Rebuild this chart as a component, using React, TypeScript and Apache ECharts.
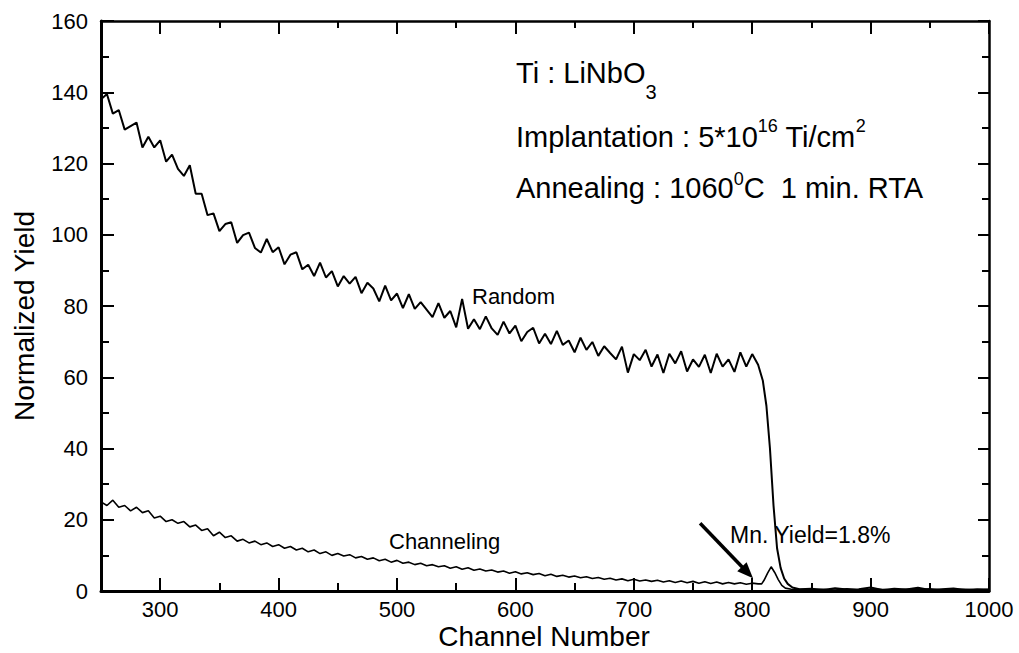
import React, { useEffect, useRef } from "react";
import * as echarts from "echarts";

// ---- data ----
const CHANNEL_START = 250;
const CHANNEL_STEP = 5;

// Random spectrum, channels 250..805 every 5 channels
const randomYield = [
  138, 139.5, 134, 135, 129.5, 130.5, 131.5, 124.5, 127.5, 124.5,
  126.5, 120.5, 122.5, 118.5, 116.5, 119.5, 111.5, 111.5, 105.5, 106,
  101, 103, 103.5, 97.7, 99.9, 100.6, 96.3, 95, 98.8, 95.1,
  96.5, 91.7, 94.4, 95.1, 90.3, 91.6, 88.4, 92.2, 88, 89.8,
  85.5, 88.4, 86.3, 88.2, 83.6, 86.5, 84.9, 81.3, 85.7, 81.6,
  83.5, 79.4, 83.3, 79.2, 81.1, 79, 76.9, 80.8, 76.7, 78.6,
  74, 82, 73.6, 76.3, 73.5, 77.1, 73.7, 71.9, 75.6, 72.3,
  74.5, 70.1, 72.7, 73.9, 69.5, 72.2, 69.3, 73, 69.1, 70.3,
  67, 71.1, 67.7, 69.9, 66, 68.7, 66.8, 65, 68.6, 61.3,
  66.5, 64.8, 67.7, 63, 66.4, 61.2, 66.6, 63.9, 67.3, 61.6,
  65, 62.9, 66.3, 61.2, 66.6, 63, 65, 61.5, 67, 63,
  66.5, 63.5,
];
const randomEdgeChannels = [809, 812, 815, 818, 821, 824, 827, 830, 834, 840];
const randomEdgeYield = [59, 52, 40, 24, 12, 6.5, 3.5, 2, 1, 0.5];

// Channeling spectrum, channels 250..805 every 5 channels
const channelingYield = [
  25, 24, 25.5, 23.5, 24, 22.5, 23.5, 22, 22.5, 20.5,
  21, 19.5, 20, 19, 19.5, 18, 18.5, 17, 17.5, 15.5,
  16.5, 15, 15.5, 14, 14.5, 13.5, 14, 13, 13.5, 12.5,
  13, 12, 12.5, 11.5, 12, 11, 11.5, 10.5, 11, 10,
  10.5, 9.8, 10.2, 9.3, 9.7, 8.9, 9.3, 8.5, 8.9, 8.1,
  8.6, 7.8, 8.1, 7.4, 7.8, 7.1, 7.4, 6.8, 7.1, 6.4,
  6.8, 6.1, 6.5, 5.8, 6.2, 5.6, 5.9, 5.3, 5.6, 5.0,
  5.4, 4.8, 5.1, 4.6, 4.9, 4.3, 4.7, 4.1, 4.4, 3.9,
  4.2, 3.7, 4.0, 3.5, 3.8, 3.3, 3.6, 3.1, 3.4, 2.9,
  3.3, 2.8, 3.1, 2.7, 3.0, 2.5, 2.9, 2.4, 2.8, 2.3,
  2.7, 2.2, 2.6, 2.1, 2.5, 2.0, 2.4, 2.0, 2.3, 1.9,
  2.2, 2.0,
];
const channelingEdgeChannels = [808, 810, 813, 816, 819, 822, 825, 828, 833, 840];
const channelingEdgeYield = [2.0, 3.0, 5.0, 6.8, 5.2, 3.2, 1.6, 0.8, 0.5, 0.4];

// Background after the surface edge
const tailChannels = [850, 860, 870, 880, 890, 900, 910, 920, 930, 940, 950, 960, 970, 980, 990, 1000];
const randomTailYield = [0.6, 0.3, 0.8, 0.4, 0.5, 1.0, 0.3, 0.6, 0.4, 0.9, 0.3, 0.5, 0.7, 0.3, 0.5, 0.4];
const channelingTailYield = [0.4, 0.5, 0.3, 0.6, 0.3, 0.5, 0.4, 0.3, 0.5, 0.4, 0.6, 0.3, 0.4, 0.5, 0.3, 0.4];

// Axis ticks
const xMajorTicks = [300, 400, 500, 600, 700, 800, 900, 1000];
const xMinorTicks = [350, 450, 550, 650, 750, 850, 950];

// Arrow pointing at the minimum-yield position
const arrowStart = [756, 19];
const arrowEnd = [796, 5.2];

const FONT = "'Liberation Sans', Arial, Helvetica, sans-serif";

function buildSeries(body: number[], edgeX: number[], edgeY: number[], tailY: number[]) {
  const pts: number[][] = body.map((v, i) => [CHANNEL_START + i * CHANNEL_STEP, v]);
  edgeX.forEach((x, i) => pts.push([x, edgeY[i]]));
  tailChannels.forEach((x, i) => pts.push([x, tailY[i]]));
  return pts;
}

export default function App() {
  const ref = useRef<HTMLDivElement>(null);

  useEffect(() => {
    if (!ref.current) return;
    const chart = echarts.init(ref.current, undefined, { renderer: "svg" });

    const axisLineStyle = (w: number) => ({ color: "#000", width: w });
    const tickStyle = { color: "#000", width: 2 };

    const xBase = { type: "value", min: 250, max: 1000, splitLine: { show: false } };
    const yBase = { type: "value", min: 0, max: 160, interval: 20, splitLine: { show: false }, minorSplitLine: { show: false } };

    const option: any = {
      animation: false,
      backgroundColor: "#ffffff",
      grid: { left: 101, right: 30, top: 21, bottom: 62, containLabel: false, outerBoundsMode: "none" },
      xAxis: [
        {
          ...xBase,
          position: "bottom",
          axisLine: { show: true, onZero: false, lineStyle: axisLineStyle(3) },
          axisTick: { show: true, inside: true, length: 13, customValues: xMajorTicks, lineStyle: tickStyle },
          axisLabel: {
            show: true,
            customValues: xMajorTicks,
            formatter: (v: number) => String(v),
            fontSize: 22,
            color: "#000",
            fontFamily: FONT,
            margin: 7,
          },
        },
        {
          ...xBase,
          position: "bottom",
          axisLine: { show: false, onZero: false },
          axisTick: { show: true, inside: true, length: 8, customValues: xMinorTicks, lineStyle: tickStyle },
          axisLabel: { show: false },
        },
        {
          ...xBase,
          position: "top",
          axisLine: { show: true, onZero: false, lineStyle: axisLineStyle(2.5) },
          axisTick: { show: true, inside: true, length: 13, customValues: xMajorTicks, lineStyle: tickStyle },
          axisLabel: { show: false },
        },
        {
          ...xBase,
          position: "top",
          axisLine: { show: false, onZero: false },
          axisTick: { show: true, inside: true, length: 7, customValues: xMinorTicks, lineStyle: tickStyle },
          axisLabel: { show: false },
        },
      ],
      yAxis: [
        {
          ...yBase,
          position: "left",
          axisLine: { show: true, onZero: false, lineStyle: axisLineStyle(3) },
          axisTick: { show: true, inside: true, length: 13, lineStyle: tickStyle },
          minorTick: { show: true, splitNumber: 2, length: 8, lineStyle: tickStyle },
          axisLabel: { show: true, fontSize: 22, color: "#000", fontFamily: FONT, margin: 13 },
        },
        {
          ...yBase,
          position: "right",
          axisLine: { show: true, onZero: false, lineStyle: axisLineStyle(2.5) },
          axisTick: { show: true, inside: true, length: 11, lineStyle: tickStyle },
          minorTick: { show: true, splitNumber: 2, length: 7, lineStyle: tickStyle },
          axisLabel: { show: false },
        },
      ],
      series: [
        {
          name: "Random",
          type: "line",
          xAxisIndex: 0,
          yAxisIndex: 0,
          symbol: "none",
          data: buildSeries(randomYield, randomEdgeChannels, randomEdgeYield, randomTailYield),
          lineStyle: { color: "#000", width: 2 },
          silent: true,
        },
        {
          name: "Channeling",
          type: "line",
          xAxisIndex: 0,
          yAxisIndex: 0,
          symbol: "none",
          data: buildSeries(channelingYield, channelingEdgeChannels, channelingEdgeYield, channelingTailYield),
          lineStyle: { color: "#000", width: 1.6 },
          silent: true,
          markLine: {
            silent: true,
            animation: false,
            symbol: ["none", "triangle"],
            symbolSize: [13, 16],
            label: { show: false },
            lineStyle: { color: "#000", width: 3.5, type: "solid" },
            data: [[{ coord: arrowStart }, { coord: arrowEnd }]],
          },
        },
      ],
      graphic: [
        {
          type: "text",
          x: 516,
          y: 73,
          style: {
            text: "Ti : LiNbO{sub|3}",
            fontSize: 29,
            lineHeight: 58,
            fontFamily: FONT,
            fill: "#000",
            verticalAlign: "middle",
            rich: {
              sub: { fontSize: 20, lineHeight: 20, verticalAlign: "bottom", fontFamily: FONT, fill: "#000" },
            },
          },
        },
        {
          type: "text",
          x: 516,
          y: 137,
          style: {
            text: "Implantation : 5*10{sup|16} Ti/cm{sup|2}",
            fontSize: 29,
            lineHeight: 40,
            fontFamily: FONT,
            fill: "#000",
            verticalAlign: "middle",
            rich: {
              sup: { fontSize: 18, lineHeight: 18, verticalAlign: "top", fontFamily: FONT, fill: "#000" },
            },
          },
        },
        {
          type: "text",
          x: 516,
          y: 188,
          style: {
            text: "Annealing : 1060{sup|0}C  1 min. RTA",
            fontSize: 29,
            lineHeight: 36,
            fontFamily: FONT,
            fill: "#000",
            verticalAlign: "middle",
            rich: {
              sup: { fontSize: 18, lineHeight: 18, verticalAlign: "top", fontFamily: FONT, fill: "#000" },
            },
          },
        },
        {
          type: "text",
          x: 472,
          y: 296,
          style: { text: "Random", fontSize: 22, fontFamily: FONT, fill: "#000", verticalAlign: "middle" },
        },
        {
          type: "text",
          x: 389,
          y: 541,
          style: { text: "Channeling", fontSize: 22, fontFamily: FONT, fill: "#000", verticalAlign: "middle" },
        },
        {
          type: "text",
          x: 730,
          y: 535,
          style: { text: "Mn. Yield=1.8%", fontSize: 23, fontFamily: FONT, fill: "#000", verticalAlign: "middle" },
        },
        {
          type: "text",
          x: 544,
          y: 636,
          style: { text: "Channel Number", fontSize: 28, fontFamily: FONT, fill: "#000", align: "center", verticalAlign: "middle" },
        },
        {
          type: "text",
          x: 24,
          y: 316,
          rotation: Math.PI / 2,
          style: { text: "Normalized Yield", fontSize: 28, fontFamily: FONT, fill: "#000", align: "center", verticalAlign: "middle" },
        },
      ],
    };

    chart.setOption(option);
    return () => chart.dispose();
  }, []);

  return (
    <div
      ref={ref}
      style={{ position: "fixed", left: 0, top: 0, width: 1019, height: 653, background: "#fff" }}
    />
  );
}
